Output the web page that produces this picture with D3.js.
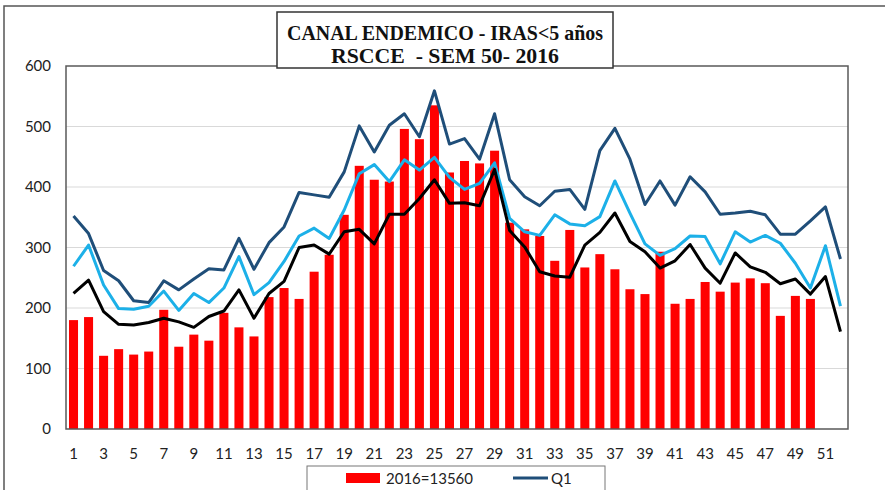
<!DOCTYPE html>
<html>
<head>
<meta charset="utf-8">
<script src="https://cdn.jsdelivr.net/npm/d3@7"></script>
<style>
  body { margin: 0; background: #fff; }
  svg { display: block; }
</style>
</head>
<body>
<div id="chart"></div>
<script>
// Canal endemico IRAS < 5 años, semana 50 - 2016

// week numbers 1..52
const weeks = d3.range(1, 53);

// 2016 cases (bars), weeks 1..50
const casos2016 = [180, 185, 121, 132, 123, 128, 197, 136, 156, 146,
    192, 168, 153, 218, 233, 215, 260, 288, 354, 435,
    412, 409, 496, 479, 535, 424, 443, 439, 460, 341,
    330, 319, 278, 329, 267, 289, 264, 231, 223, 293,
    207, 215, 243, 227, 242, 249, 241, 187, 220, 215];

// dark blue line (Q1 in legend)
const q1 = [352, 323, 262, 245, 212, 209, 245, 230, 248, 265,
    263, 315, 264, 308, 334, 391, 387, 383, 425, 501,
    458, 502, 521, 483, 559, 471, 480, 446, 521, 412,
    384, 369, 393, 396, 363, 460, 497, 446, 371, 410,
    370, 417, 392, 355, 357, 360, 354, 322, 322, 344,
    367, 281];

// light blue line
const q2 = [269, 304, 238, 199, 198, 203, 228, 196, 224, 209,
    233, 285, 222, 242, 277, 319, 332, 315, 362, 422,
    437, 409, 445, 428, 449, 416, 396, 406, 440, 348,
    326, 320, 354, 339, 336, 351, 410, 357, 306, 287,
    298, 319, 318, 273, 326, 309, 320, 307, 274, 233,
    303, 203];

// black line
const q3 = [224, 246, 194, 173, 172, 176, 183, 177, 168, 186,
    195, 230, 183, 224, 244, 300, 304, 289, 326, 330,
    306, 355, 355, 381, 412, 373, 374, 369, 429, 328,
    301, 260, 253, 251, 304, 325, 357, 310, 293, 266,
    278, 305, 266, 241, 291, 268, 259, 240, 248, 223,
    252, 161];

const yTicks = [0, 100, 200, 300, 400, 500, 600];

const width = 885;
const height = 490;
const plot = { left: 66, right: 848, top: 66, bottom: 429 };

const svg = d3.select("#chart")
    .append("svg")
    .attr("width", width)
    .attr("height", height);

// outer chart border (only top/left visible in the crop)
svg.append("path")
    .attr("d", `M4,${height + 5} V6 H${width + 5}`)
    .attr("fill", "none")
    .attr("stroke", "#555")
    .attr("stroke-width", 1.5);

// Scales
const x = d3.scaleBand()
    .domain(weeks)
    .range([plot.left, plot.right])
    .paddingInner(0.4)
    .paddingOuter(0.2);

const y = d3.scaleLinear()
    .domain([0, 600])
    .range([plot.bottom, plot.top]);

const xc = d => x(d) + x.bandwidth() / 2;

// gridlines
svg.append("g")
    .selectAll("line")
    .data(yTicks.filter(t => t > 0 && t < 600))
    .join("line")
    .attr("x1", plot.left)
    .attr("x2", plot.right)
    .attr("y1", d => y(d))
    .attr("y2", d => y(d))
    .attr("stroke", "#d9d9d9")
    .attr("stroke-width", 1);

// y axis labels
const yAxis = svg.append("g")
    .attr("transform", `translate(${plot.left},0)`)
    .call(d3.axisLeft(y).tickValues(yTicks).tickSize(0).tickPadding(15));
yAxis.select(".domain").remove();
yAxis.selectAll("text")
    .attr("font-family", "Lato, 'Open Sans', sans-serif")
    .attr("font-size", 15)
    .attr("fill", "#222");

// x axis labels (odd weeks)
const xAxis = svg.append("g")
    .attr("transform", `translate(0,${plot.bottom})`)
    .call(d3.axisBottom(x).tickValues(weeks.filter(w => w % 2 === 1)).tickSize(0).tickPadding(19));
xAxis.select(".domain").remove();
xAxis.selectAll("text")
    .attr("font-family", "Lato, 'Open Sans', sans-serif")
    .attr("font-size", 15)
    .attr("fill", "#222");

// bars
svg.append("g")
    .selectAll("rect")
    .data(casos2016)
    .join("rect")
    .attr("x", (d, i) => x(weeks[i]))
    .attr("y", d => y(d))
    .attr("width", x.bandwidth())
    .attr("height", d => y(0) - y(d))
    .attr("fill", "#ff0000");

// lines
const line = d3.line()
    .x((d, i) => xc(weeks[i]))
    .y(d => y(d));

const series = [
    { name: "Q1", values: q1, color: "#1f4e79" },
    { name: "Q2", values: q2, color: "#1cb0e8" },
    { name: "Q3", values: q3, color: "#000000" }
];

svg.append("g")
    .selectAll("path")
    .data(series)
    .join("path")
    .attr("d", d => line(d.values))
    .attr("fill", "none")
    .attr("stroke", d => d.color)
    .attr("stroke-width", 3)
    .attr("stroke-linejoin", "round");

// plot frame
svg.append("rect")
    .attr("x", plot.left)
    .attr("y", plot.top)
    .attr("width", plot.right - plot.left)
    .attr("height", plot.bottom - plot.top)
    .attr("fill", "none")
    .attr("stroke", "#595959")
    .attr("stroke-width", 1.5);

// title box
const tBox = { x: 277, y: 12, w: 336, h: 56 };
svg.append("rect")
    .attr("x", tBox.x)
    .attr("y", tBox.y)
    .attr("width", tBox.w)
    .attr("height", tBox.h)
    .attr("fill", "#fff")
    .attr("stroke", "#333")
    .attr("stroke-width", 1.5);

const titleLines = [
    { text: "CANAL ENDEMICO - IRAS<5 años", y: 40, len: 316 },
    { text: "RSCCE  - SEM 50- 2016", y: 63, len: 228 }
];
svg.append("g")
    .selectAll("text")
    .data(titleLines)
    .join("text")
    .attr("x", tBox.x + tBox.w / 2)
    .attr("y", d => d.y)
    .attr("text-anchor", "middle")
    .attr("font-family", "'Liberation Serif', 'DejaVu Serif', serif")
    .attr("font-weight", "bold")
    .attr("font-size", 21)
    .attr("fill", "#111")
    .attr("textLength", d => d.len)
    .attr("lengthAdjust", "spacingAndGlyphs")
    .style("white-space", "pre")
    .text(d => d.text);

// legend (cut off at the bottom of the picture)
const legend = svg.append("g");
legend.append("rect")
    .attr("x", 307)
    .attr("y", 466)
    .attr("width", 298)
    .attr("height", 40)
    .attr("fill", "#fff")
    .attr("stroke", "#777")
    .attr("stroke-width", 1);
legend.append("rect")
    .attr("x", 346)
    .attr("y", 473)
    .attr("width", 34)
    .attr("height", 10)
    .attr("fill", "#ff0000");
legend.append("text")
    .attr("x", 386)
    .attr("y", 484)
    .attr("font-family", "Lato, 'Open Sans', sans-serif")
    .attr("font-size", 15)
    .attr("fill", "#222")
    .text("2016=13560");
legend.append("line")
    .attr("x1", 513)
    .attr("x2", 548)
    .attr("y1", 478)
    .attr("y2", 478)
    .attr("stroke", series[0].color)
    .attr("stroke-width", 3);
legend.append("text")
    .attr("x", 551)
    .attr("y", 484)
    .attr("font-family", "Lato, 'Open Sans', sans-serif")
    .attr("font-size", 15)
    .attr("fill", "#222")
    .text("Q1");
</script>
</body>
</html>
